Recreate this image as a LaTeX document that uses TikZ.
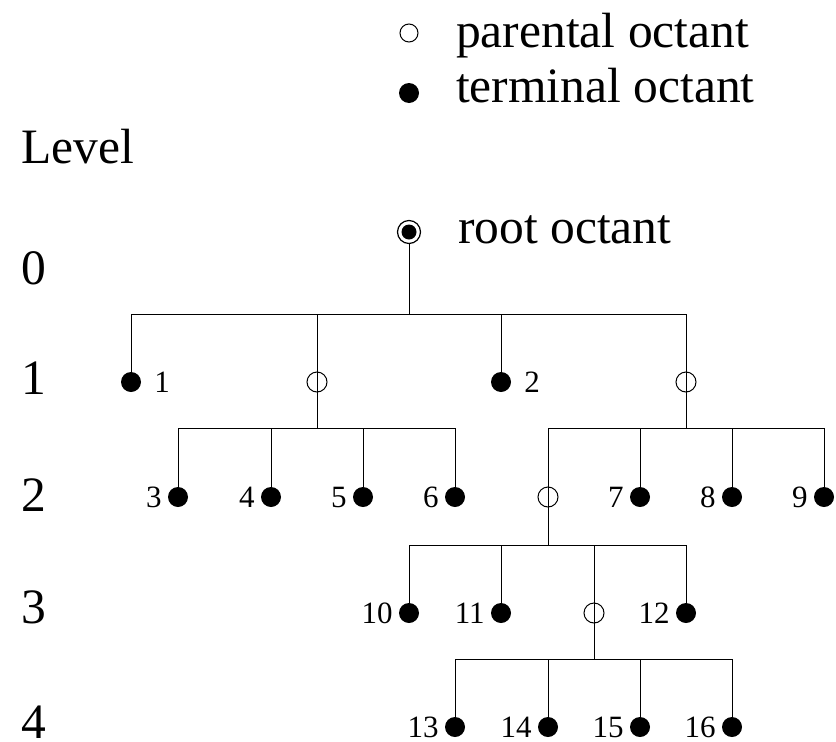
\documentclass[tikz,border=0pt]{standalone}
\usepackage{fontspec}
\setmainfont{Liberation Serif}
\begin{document}
\begin{tikzpicture}[x=1pt,y=-1pt,
  term/.style={circle,fill=black,inner sep=0pt,minimum size=20pt},
  par/.style={circle,draw,line width=1pt,inner sep=0pt,minimum size=20pt},
  rootnode/.style={circle,draw,fill=white,line width=1.2pt,inner sep=0pt,minimum size=23pt},
  lbl/.style={font=\fontsize{31}{36}\selectfont,inner sep=0pt},
  ll/.style={label={[lbl,label distance=6pt]left:#1}},
  lr/.style={label={[lbl,label distance=13pt]right:#1}},
  big/.style={font=\fontsize{49.5}{59}\selectfont,inner sep=0pt,anchor=base west},
  conn/.style={line width=1pt}]
\useasboundingbox (0,0) rectangle (836,742);
% legend
\node[par,minimum size=18pt] (lgp) at (409,33) {};
\node[term] (lgt) at (409,93) {};
\node[big] (tp) at (456,47) {parental octant};
\node[big] (tt) at (456,102) {terminal octant};
\node[big] (tlev) at (21,163) {Level};
\node[big] (l0) at (21,284) {0};
\node[big] (l1) at (21,394) {1};
\node[big] (l2) at (21,511) {2};
\node[big] (l3) at (21,623) {3};
\node[big] (l4) at (21,738) {4};
% bars
\coordinate (b0) at (0,314);
\coordinate (b1) at (0,428);
\coordinate (b2) at (0,545);
\coordinate (b3) at (0,659);
% nodes
\node[term] (n1) at (131,382) [lr=1] {};
\node[par] (p1) at (317,382) {};
\node[term] (n2) at (501,382) [lr=2] {};
\node[par] (p2) at (686,382) {};
\node[term] (n3) at (178,497) [ll=3] {};
\node[term] (n4) at (271,497) [ll=4] {};
\node[term] (n5) at (363,497) [ll=5] {};
\node[term] (n6) at (455,497) [ll=6] {};
\node[par] (p3) at (548,497) {};
\node[term] (n7) at (640,497) [ll=7] {};
\node[term] (n8) at (732,497) [ll=8] {};
\node[term] (n9) at (824,497) [ll=9] {};
\node[term] (n10) at (409,613) [ll=10] {};
\node[term] (n11) at (501,613) [ll=11] {};
\node[par] (p4) at (594,613) {};
\node[term] (n12) at (686,613) [ll=12] {};
\node[term] (n13) at (455,727) [ll=13] {};
\node[term] (n14) at (548,727) [ll=14] {};
\node[term] (n15) at (640,727) [ll=15] {};
\node[term] (n16) at (732,727) [ll=16] {};
% root
\node[rootnode] (r) at (409,232) {};
\fill (r.center) circle (7.5pt);
\node[big] (troot) at (458,243) {root octant};
% connectors
\foreach \c in {n1,p1,n2,p2}
  \draw[conn] (r.south) -- (r.south |- b0) -| (\c.center);
\foreach \c in {n3,n4,n5,n6}
  \draw[conn] (p1.center) -- (p1.center |- b1) -| (\c.center);
\foreach \c in {p3,n7,n8,n9}
  \draw[conn] (p2.center) -- (p2.center |- b1) -| (\c.center);
\foreach \c in {n10,n11,p4,n12}
  \draw[conn] (p3.center) -- (p3.center |- b2) -| (\c.center);
\foreach \c in {n13,n14,n15,n16}
  \draw[conn] (p4.center) -- (p4.center |- b3) -| (\c.center);
\end{tikzpicture}
\end{document}
